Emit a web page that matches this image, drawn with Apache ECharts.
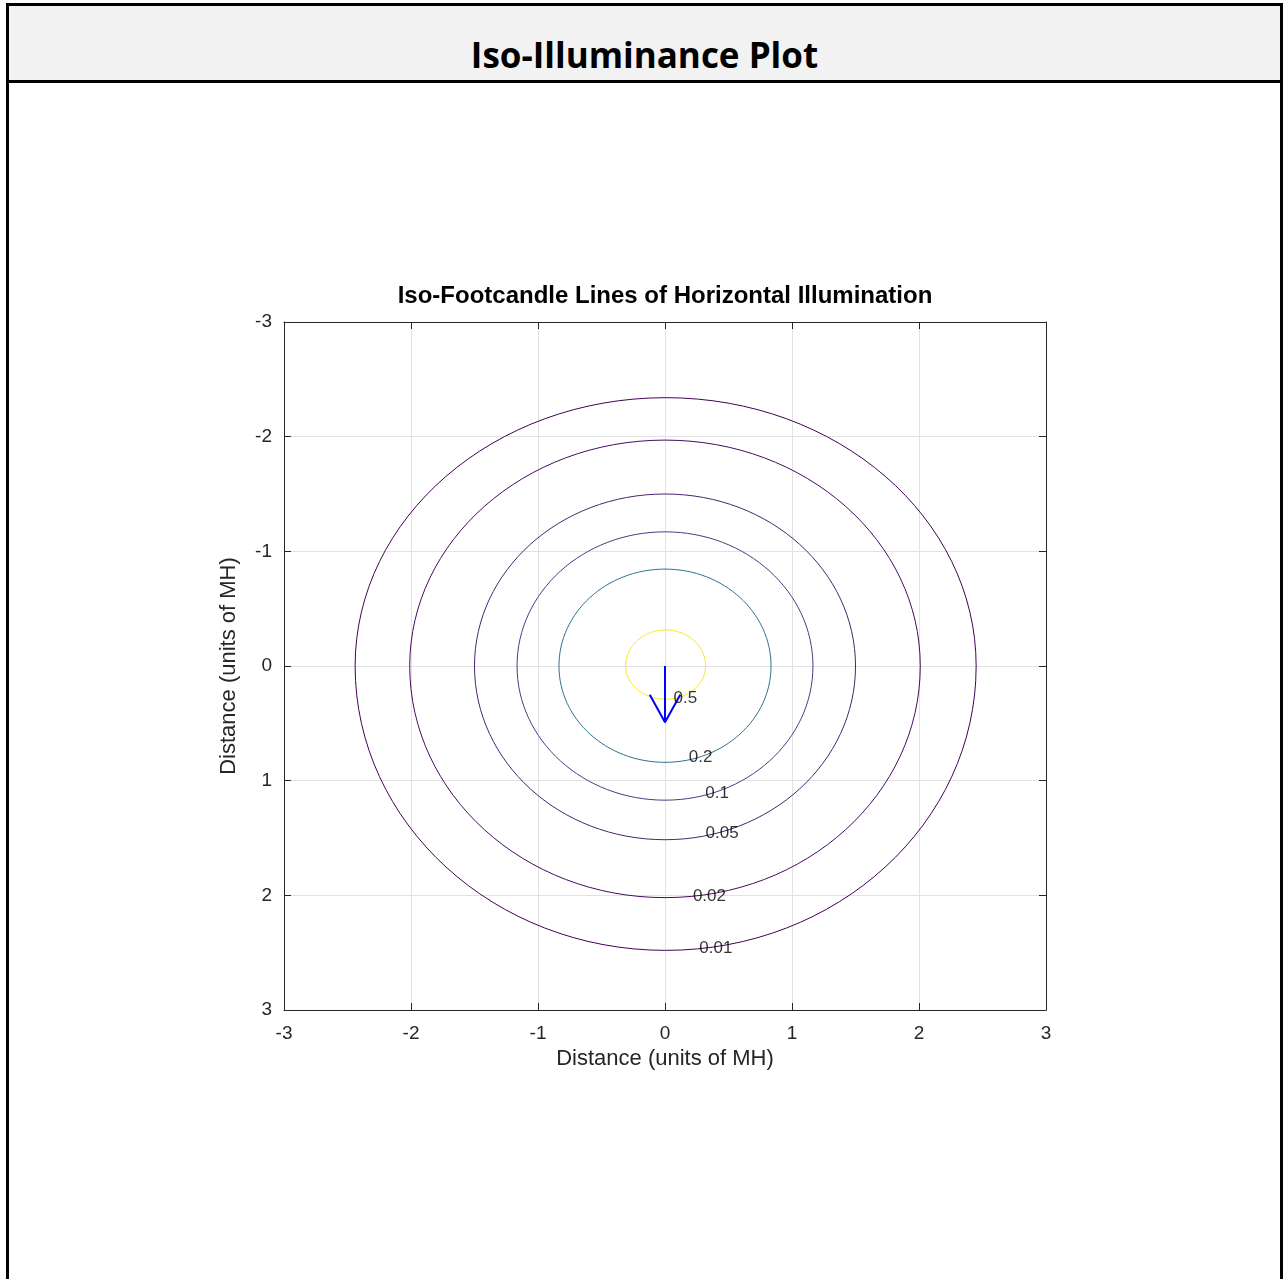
<!DOCTYPE html>
<html>
<head>
<meta charset="utf-8">
<title>Iso-Illuminance Plot</title>
<script src="https://cdn.jsdelivr.net/npm/echarts@6/dist/echarts.min.js"></script>
<style>
  html, body { margin: 0; padding: 0; background: #fff; overflow: hidden; }
  .frame {
    position: absolute; left: 6px; top: 3px; width: 1277px; height: 1276px;
    border: 3px solid #000; border-bottom: none; box-sizing: border-box;
  }
  .header {
    position: relative; height: 74px; background: #f2f2f2; border-bottom: 3px solid #000;
  }
  .header h1 {
    position: absolute; left: 0; right: 0; top: 29px; margin: 0;
    text-align: center; font-family: "Open Sans", sans-serif; font-weight: 700;
    font-size: 35px; line-height: 40px; color: #000;
  }
  #chart { position: absolute; left: 0; top: 0; width: 1283px; height: 1279px; }
</style>
</head>
<body>
<div class="frame">
  <div class="header"><h1>Iso-Illuminance Plot</h1></div>
</div>
<div id="chart"></div>
<script>
  // contour levels, extents (units of MH)
  const levels = ['0.01', '0.02', '0.05', '0.1', '0.2', '0.5']
  const ringLeft = [-2.44, -2.01, -1.50, -1.165, -0.835, -0.31]
  const ringRight = [2.45, 2.01, 1.50, 1.165, 0.835, 0.32]
  const ringTop = [-2.34, -1.97, -1.50, -1.17, -0.845, -0.315]
  const ringBottom = [2.48, 2.02, 1.515, 1.17, 0.84, 0.29]
  const labelX = [0.40, 0.35, 0.45, 0.41, 0.28, 0.16]
  const labelY = [2.46, 2.01, 1.46, 1.11, 0.795, 0.28]
  const arrowShaft = [[0, 0], [0, 0.49]]
  const arrowHead = [[-0.12, 0.25], [0, 0.49], [0.12, 0.25]]

  const ringColors = ['#440154', '#470b5e', '#48256f', '#443f85', '#2c738e', '#fde725']
  const axisColor = '#262626'
  const font = 'Liberation Sans, Arial, sans-serif'

  const chart = echarts.init(document.getElementById('chart'))

  function ringItem (params, api) {
    const xl = api.value(0)
    const xr = api.value(1)
    const cxv = (xl + xr) / 2
    const l = api.coord([xl, 0])
    const r = api.coord([xr, 0])
    const t = api.coord([cxv, api.value(2)])
    const b = api.coord([cxv, api.value(3)])
    const k = 0.5523
    const c = t[0]
    const m = l[1]
    const rx1 = c - l[0]
    const rx2 = r[0] - c
    const ryT = m - t[1]
    const ryB = b[1] - m
    const style = { stroke: ringColors[params.dataIndex], fill: null, lineWidth: 1 }
    const seg = (x1, y1, cpx1, cpy1, cpx2, cpy2, x2, y2) => ({
      type: 'bezierCurve',
      shape: { x1, y1, cpx1, cpy1, cpx2, cpy2, x2, y2 },
      style
    })
    return {
      type: 'group',
      children: [
        seg(r[0], m, r[0], m + k * ryB, c + k * rx2, b[1], c, b[1]),
        seg(c, b[1], c - k * rx1, b[1], l[0], m + k * ryB, l[0], m),
        seg(l[0], m, l[0], m - k * ryT, c - k * rx1, t[1], c, t[1]),
        seg(c, t[1], c + k * rx2, t[1], r[0], m - k * ryT, r[0], m)
      ]
    }
  }

  const mainAxis = {
    type: 'value',
    min: -3,
    max: 3,
    interval: 1,
    axisLine: { show: true, onZero: false, lineStyle: { color: axisColor, width: 1 } },
    axisTick: { show: true, inside: true, length: 7, lineStyle: { color: axisColor } },
    axisLabel: { color: axisColor, fontSize: 19, fontFamily: font },
    splitLine: { show: true, lineStyle: { color: '#e2e2e2', width: 1 } },
    nameLocation: 'middle',
    name: 'Distance (units of MH)',
    nameTextStyle: { color: axisColor, fontSize: 22, fontFamily: font }
  }
  const boxAxis = {
    type: 'value',
    min: -3,
    max: 3,
    interval: 1,
    axisLine: { show: true, onZero: false, lineStyle: { color: axisColor, width: 1 } },
    axisTick: { show: true, inside: true, length: 7, lineStyle: { color: axisColor } },
    axisLabel: { show: false },
    splitLine: { show: false }
  }

  chart.setOption({
    animation: false,
    title: {
      text: 'Iso-Footcandle Lines of Horizontal Illumination',
      left: 660,
      top: 279,
      textAlign: 'center',
      textStyle: { color: '#000', fontSize: 24, fontWeight: 'bold', fontFamily: font }
    },
    grid: { left: 284, top: 322, width: 762, height: 688, containLabel: false },
    xAxis: [
      Object.assign({}, mainAxis, { position: 'bottom', nameGap: 37, axisLabel: Object.assign({}, mainAxis.axisLabel, { margin: 14 }) }),
      Object.assign({}, boxAxis, { position: 'top' })
    ],
    yAxis: [
      Object.assign({}, mainAxis, { position: 'left', inverse: true, nameGap: 44, axisLabel: Object.assign({}, mainAxis.axisLabel, { margin: 12 }) }),
      Object.assign({}, boxAxis, { position: 'right', inverse: true })
    ],
    series: [
      {
        type: 'custom',
        renderItem: ringItem,
        encode: { x: [0, 1], y: [2, 3] },
        data: ringLeft.map((v, i) => [v, ringRight[i], ringTop[i], ringBottom[i]]),
        silent: true,
        z: 2
      },
      {
        type: 'line',
        data: arrowShaft,
        symbol: 'none',
        lineStyle: { color: '#0000ff', width: 2 },
        silent: true,
        z: 3
      },
      {
        type: 'line',
        data: arrowHead,
        symbol: 'none',
        lineStyle: { color: '#0000ff', width: 2 },
        silent: true,
        z: 3
      },
      {
        type: 'scatter',
        data: labelX.map((x, i) => [x, labelY[i], levels[i]]),
        symbolSize: 0,
        silent: true,
        z: 4,
        label: {
          show: true,
          position: 'inside',
          formatter: p => p.value[2],
          color: '#000',
          fontSize: 17,
          fontFamily: font
        }
      }
    ]
  })

  window.addEventListener('resize', () => {
    chart.resize()
  })
</script>
</body>
</html>
